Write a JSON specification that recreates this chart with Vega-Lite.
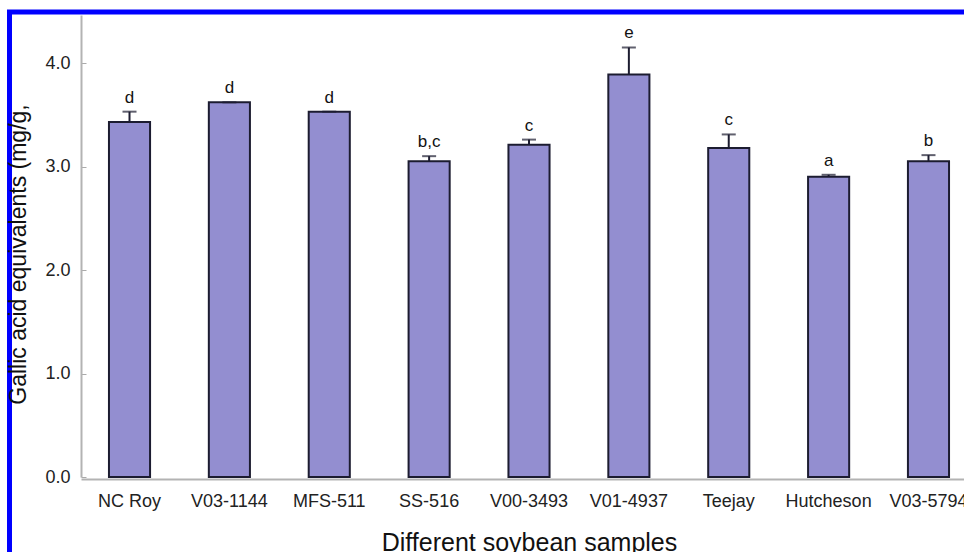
{
  "$schema": "https://vega.github.io/schema/vega-lite/v6.json",
  "autosize": {"type": "none"},
  "padding": {"left": 9.5, "top": 12, "right": -16, "bottom": -10},
  "width": 970.5,
  "height": 550,
  "background": "white",
  "config": {
    "view": {"stroke": "#0000ff", "strokeWidth": 5},
    "font": "Liberation Sans"
  },
  "data": {
    "values": [
      {"sample": "NC Roy", "value": 3.43, "upper": 3.53, "letter": "d"},
      {"sample": "V03-1144", "value": 3.62, "upper": 3.62, "letter": "d"},
      {"sample": "MFS-511", "value": 3.53, "upper": 3.53, "letter": "d"},
      {"sample": "SS-516", "value": 3.05, "upper": 3.10, "letter": "b,c"},
      {"sample": "V00-3493", "value": 3.21, "upper": 3.26, "letter": "c"},
      {"sample": "V01-4937", "value": 3.89, "upper": 4.15, "letter": "e"},
      {"sample": "Teejay", "value": 3.18, "upper": 3.31, "letter": "c"},
      {"sample": "Hutcheson", "value": 2.90, "upper": 2.92, "letter": "a"},
      {"sample": "V03-5794", "value": 3.05, "upper": 3.11, "letter": "b"}
    ]
  },
  "encoding": {
    "x": {
      "field": "sample",
      "type": "nominal",
      "sort": null,
      "scale": {"range": [71.5, 967.5], "paddingInner": 0.5885, "paddingOuter": 0.28, "align": 0.5},
      "axis": {
        "title": "Different soybean samples",
        "titleFontSize": 25,
        "titleFontWeight": "normal",
        "titleColor": "#111111",
        "titlePadding": 20,
        "labelFontSize": 18,
        "labelColor": "#222222",
        "labelAngle": 0,
        "labelPadding": 13,
        "ticks": false,
        "domainColor": "#b3b3b3",
        "domainWidth": 2,
        "offset": -83,
        "grid": false
      }
    }
  },
  "layer": [
    {
      "mark": {"type": "bar", "fill": "#938ed0", "stroke": "#1c1c30", "strokeWidth": 2},
      "encoding": {
        "y": {
          "field": "value",
          "type": "quantitative",
          "scale": {"domain": [0, 4.464], "range": [465, 3], "nice": false, "zero": true},
          "axis": {
            "title": "Gallic acid equivalents (mg/g,",
            "titleFontSize": 23,
            "titleFontWeight": "normal",
            "titleColor": "#111111",
            "titlePadding": 14,
            "titleY": 242,
            "values": [0, 1, 2, 3, 4],
            "format": ".1f",
            "labelFontSize": 18,
            "labelColor": "#222222",
            "labelPadding": 16,
            "tickSize": -5,
            "tickColor": "#aaaaaa",
            "domainColor": "#b3b3b3",
            "domainWidth": 2,
            "grid": false,
            "offset": -71.5
          }
        }
      }
    },
    {
      "mark": {"type": "rule", "color": "#1c1c30", "strokeWidth": 2},
      "encoding": {
        "y": {"field": "value", "type": "quantitative"},
        "y2": {"field": "upper"}
      }
    },
    {
      "mark": {"type": "tick", "color": "#1c1c30", "size": 14, "thickness": 2},
      "encoding": {
        "y": {"field": "upper", "type": "quantitative"}
      }
    },
    {
      "mark": {"type": "text", "baseline": "bottom", "dy": -5, "fontSize": 17, "color": "#111111"},
      "encoding": {
        "y": {"field": "upper", "type": "quantitative"},
        "text": {"field": "letter"}
      }
    }
  ]
}
